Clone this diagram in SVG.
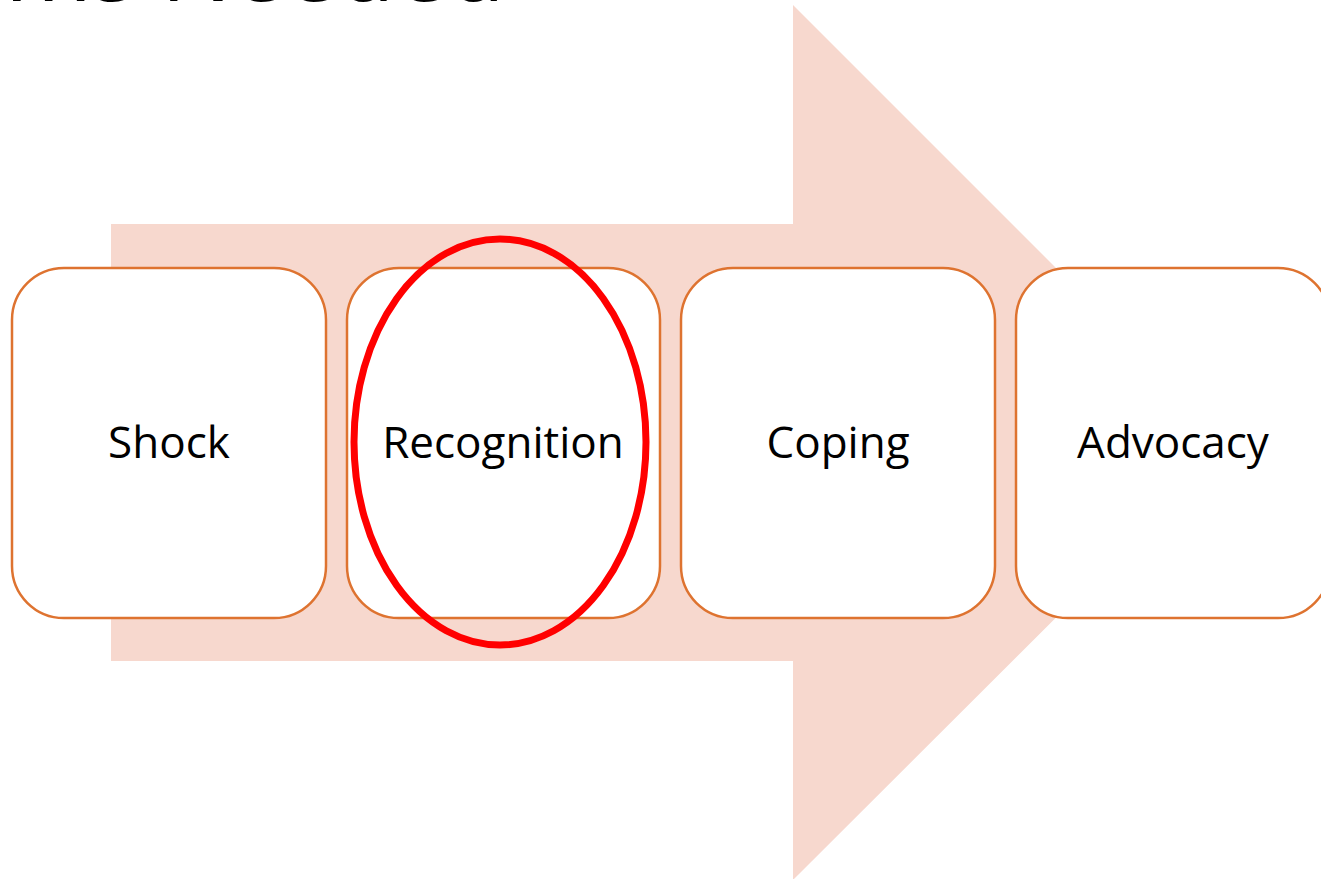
<svg xmlns="http://www.w3.org/2000/svg" width="1321" height="879" viewBox="0 0 1321 879">
<style>
.box{fill:#fff;stroke:#DE7330;stroke-width:2.5}
.lbl{font-family:"Open Sans","Liberation Sans",sans-serif;font-size:44px;fill:#000;text-anchor:middle;dominant-baseline:central}
</style>
<rect width="1321" height="879" fill="#fff"/>
<text x="5" y="1" font-family="Open Sans, Liberation Sans, sans-serif" font-size="96" textLength="500" lengthAdjust="spacingAndGlyphs" fill="#000">ms Needed</text>
<g id="arrow">
<polygon points="111,224 793,224 793,5 1231,443 793,880 793,661 111,661" fill="#F7D8CE"/>
</g>
<g id="connectors"></g>
<g id="shock"><rect class="box" x="12" y="268" width="314" height="350" rx="52"/><text class="lbl" x="169" y="441">Shock</text></g>
<g id="recognition"><rect class="box" x="347" y="268" width="313" height="350" rx="52"/><text class="lbl" x="503" y="441">Recognition</text></g>
<g id="coping"><rect class="box" x="681" y="268" width="314" height="350" rx="52"/><text class="lbl" x="838" y="441">Coping</text></g>
<g id="advocacy"><rect class="box" x="1016" y="268" width="314" height="350" rx="52"/><text class="lbl" x="1173" y="441">Advocacy</text></g>
<g id="highlight"><ellipse cx="500" cy="442" rx="146" ry="203" fill="none" stroke="#FF0000" stroke-width="7"/></g>
</svg>
